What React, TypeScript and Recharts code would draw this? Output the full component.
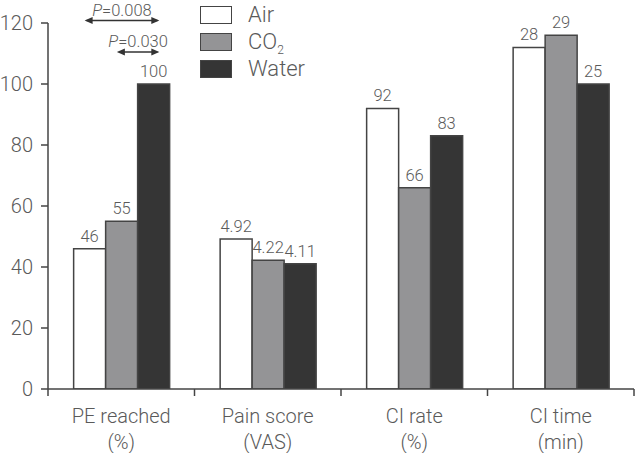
import { BarChart, Bar, XAxis, YAxis, LabelList, ReferenceLine } from 'recharts'

// bar heights (Pain score and CI time are drawn on a scaled axis)
const categories = ['PE reached|(%)', 'Pain score|(VAS)', 'CI rate|(%)', 'CI time|(min)']
const airValues = [46, 49.2, 92, 112]
const co2Values = [55, 42.2, 66, 116]
const waterValues = [100, 41.1, 83, 100]
const airLabels = ['46', '4.92', '92', '28']
const co2Labels = ['55', '4.22', '66', '29']
const waterLabels = ['100', '4.11', '83', '25']
const yTicks = [0, 20, 40, 60, 80, 100, 120]

// P-value brackets over the first group: from/to as a share of the category band
const pBrackets = [
  { text: '0.008', from: 0.25, to: 0.76, y: 120.8 },
  { text: '0.030', from: 0.47, to: 0.76, y: 110.5 },
]

const FONT = 'Roboto, "Liberation Sans", sans-serif'
const TEXT = '#5a5a5a'
const EDGE = '#444'

const data = categories.map((c, i) => ({
  name: c,
  air: airValues[i],
  co2: co2Values[i],
  water: waterValues[i],
  airLabel: airLabels[i],
  co2Label: co2Labels[i],
  waterLabel: waterLabels[i],
}))

function CategoryTick({ x, y, payload }: any) {
  const [l1, l2] = String(payload.value).split('|')
  return (
    <text x={x} y={y} textAnchor="middle" fill={TEXT} fontSize={20} fontWeight={300} fontFamily={FONT}>
      <tspan x={x} dy={26}>{l1}</tspan>
      <tspan x={x} dy={26}>{l2}</tspan>
    </text>
  )
}

// double-headed arrow with its P label; x1/x2 come in as the band edges of the first group
function arrowShape(label: string, from: number, to: number) {
  return (props: any) => {
    const band = props.x2 - props.x1
    const x1 = props.x1 + band * from
    const x2 = props.x1 + band * to
    const y1 = props.y1
    const h = 8
    const w = 3.5
    return (
      <g>
        <line x1={x1 + 2} x2={x2 - 2} y1={y1} y2={y1} stroke="#333" strokeWidth={1.6} />
        <polygon points={`${x1},${y1} ${x1 + h},${y1 - w} ${x1 + h},${y1 + w}`} fill="#333" />
        <polygon points={`${x2},${y1} ${x2 - h},${y1 - w} ${x2 - h},${y1 + w}`} fill="#333" />
        <text x={(x1 + x2) / 2} y={y1 - 5} textAnchor="middle" fill={TEXT} fontSize={16.5} fontWeight={300} fontFamily={FONT}>
          <tspan fontStyle="italic">P</tspan>=
          {label}
        </text>
      </g>
    )
  }
}

const legendItems = [
  { name: 'Air', fill: '#fff' },
  { name: 'CO', sub: '2', fill: '#949496' },
  { name: 'Water', fill: '#353535' },
]

function LegendBox() {
  return (
    <div style={{ position: 'absolute', left: 200, top: 1, fontFamily: FONT, fontWeight: 300, color: TEXT }}>
      {legendItems.map((it) => (
        <div key={it.name} style={{ display: 'flex', alignItems: 'center', height: 27 }}>
          <div style={{ width: 30, height: 16, background: it.fill, border: `1.5px solid ${EDGE}` }} />
          <span style={{ marginLeft: 16, fontSize: 22, lineHeight: '22px', height: 22 }}>
            {it.name}
            {it.sub && <span style={{ fontSize: 12, position: 'relative', top: 5 }}>{it.sub}</span>}
          </span>
        </div>
      ))}
    </div>
  )
}

export default function App() {
  const labelStyle = { fill: TEXT, fontSize: 16.5, fontWeight: 300, fontFamily: FONT }
  return (
    <div style={{ position: 'absolute', left: 0, top: 0, width: 636, height: 453, background: '#fff' }}>
      <BarChart
        width={636}
        height={453}
        data={data}
        margin={{ top: 23, right: 2, bottom: 0, left: 0 }}
        barCategoryGap="17.5%"
        barGap={0}
      >
        <XAxis
          dataKey="name"
          height={64}
          stroke={EDGE}
          strokeWidth={1.5}
          tickLine={false}
          tick={<CategoryTick />}
          interval={0}
        />
        <YAxis
          domain={[0, 120]}
          ticks={yTicks}
          width={48}
          tickSize={7}
          tickMargin={8}
          stroke={EDGE}
          strokeWidth={1.5}
          tick={{ fill: TEXT, fontSize: 20, fontWeight: 300, fontFamily: FONT }}
          allowDataOverflow
        />
        <Bar dataKey="air" fill="#fff" stroke={EDGE} strokeWidth={1.5} isAnimationActive={false}>
          <LabelList dataKey="airLabel" position="top" offset={7} style={labelStyle} />
        </Bar>
        <Bar dataKey="co2" fill="#949496" stroke={EDGE} strokeWidth={1.5} isAnimationActive={false}>
          <LabelList dataKey="co2Label" position="top" offset={7} style={labelStyle} />
        </Bar>
        <Bar dataKey="water" fill="#353535" stroke={EDGE} strokeWidth={1.5} isAnimationActive={false}>
          <LabelList dataKey="waterLabel" position="top" offset={7} style={labelStyle} />
        </Bar>
        {/* downward ticks at the category boundaries */}
        <ReferenceLine
          segment={[{ x: categories[0], y: 0 }, { x: categories[0], y: -2.3 }]}
          position="start"
          ifOverflow="visible"
          stroke={EDGE}
          strokeWidth={1.5}
        />
        {categories.map((c) => (
          <ReferenceLine
            key={c}
            segment={[{ x: c, y: 0 }, { x: c, y: -2.3 }]}
            position="end"
            ifOverflow="visible"
            stroke={EDGE}
            strokeWidth={1.5}
          />
        ))}
        {pBrackets.map((p) => (
          <ReferenceLine
            key={p.text}
            segment={[{ x: categories[0], y: p.y }, { x: categories[1], y: p.y }]}
            position="start"
            ifOverflow="visible"
            shape={arrowShape(p.text, p.from, p.to)}
          />
        ))}
      </BarChart>
      <LegendBox />
    </div>
  )
}
